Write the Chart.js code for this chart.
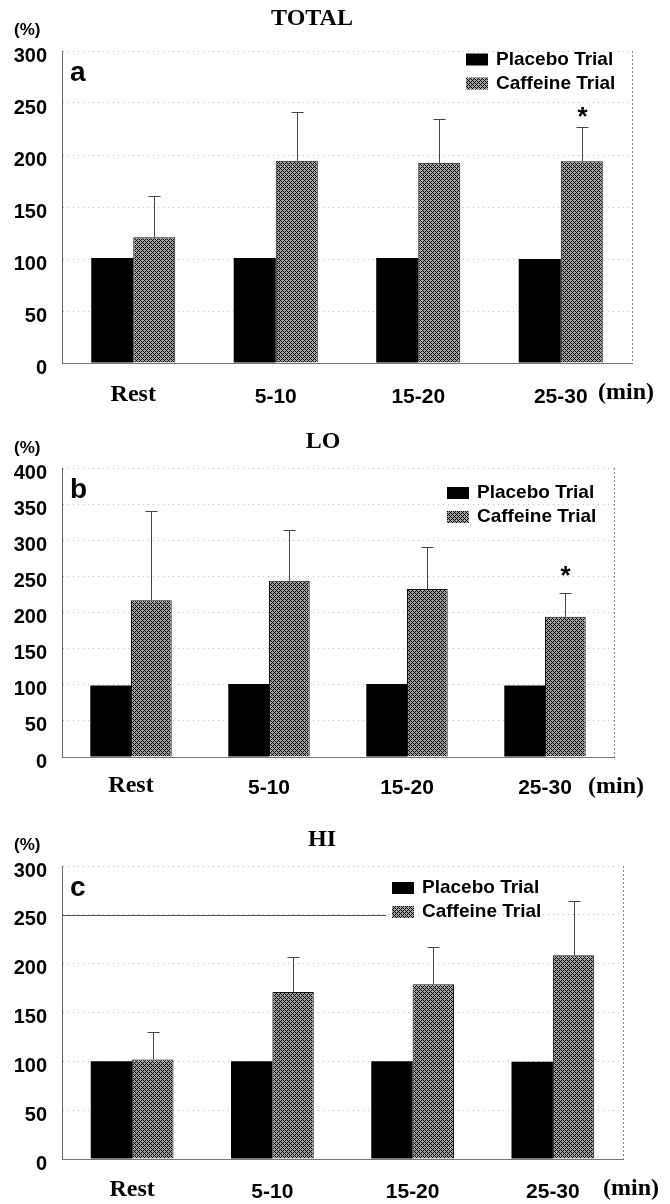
<!DOCTYPE html>
<html>
<head>
<meta charset="utf-8">
<script src="https://cdn.jsdelivr.net/npm/chart.js@4"></script>
<style>
  body { margin: 0; background: #fff; }
  canvas { display: block; }
</style>
</head>
<body>
<canvas id="chartA" width="670" height="410"></canvas>
<canvas id="chartB" width="670" height="395"></canvas>
<canvas id="chartC" width="670" height="399"></canvas>
<script>
// categories on x axis
const categories = ['Rest', '5-10', '15-20', '25-30'];
const seriesNames = ['Placebo Trial', 'Caffeine Trial'];

// panel a - TOTAL
const totalPlacebo = [101, 101, 101, 100];
const totalCaffeine = [121, 194.5, 192.5, 194];
const totalCaffeineSD = [40, 47, 42.5, 32.5];
const totalMarks = ['', '', '', '*'];
const totalTicks = [0, 50, 100, 150, 200, 250, 300];

// panel b - LO
const loPlacebo = [99, 101, 101, 99];
const loCaffeine = [217, 244, 232.5, 194];
const loCaffeineSD = [124, 70, 57.5, 33.5];
const loMarks = ['', '', '', '*'];
const loTicks = [0, 50, 100, 150, 200, 250, 300, 350, 400];

// panel c - HI
const hiPlacebo = [100, 100, 100, 99.5];
const hiCaffeine = [102, 171, 179, 208.5];
const hiCaffeineSD = [28, 36, 38, 56];
const hiMarks = ['', '', '', ''];
const hiTicks = [0, 50, 100, 150, 200, 250, 300];

const SANS = '"Liberation Sans", Arial, sans-serif';
const SERIF = '"Liberation Serif", "Times New Roman", serif';

// cross hatch fill for the caffeine bars
function makeHatch() {
  const c = document.createElement('canvas');
  c.width = 4; c.height = 4;
  const g = c.getContext('2d');
  g.fillStyle = '#a4a4a4';
  g.fillRect(0, 0, 4, 4);
  g.fillStyle = '#000';
  for (let x = 0; x < 4; x++) {
    for (let y = 0; y < 4; y++) {
      if ((x + y) % 4 == 0 || (x - y + 4) % 4 == 0) g.fillRect(x, y, 1, 1);
    }
  }
  return g.createPattern(c, 'repeat');
}
const hatch = makeHatch();

// error bars, asterisks, legend, labels and frame
const decor = {
  id: 'decor',
  afterDatasetsDraw(chart, args, o) {
    const ctx = chart.ctx;
    const yScale = chart.scales.y;
    const meta = chart.getDatasetMeta(1);
    const means = chart.data.datasets[1].data;
    ctx.save();
    ctx.strokeStyle = '#444';
    ctx.lineWidth = 1;
    meta.data.forEach((bar, i) => {
      const top = yScale.getPixelForValue(means[i] + o.sd[i]);
      const x = Math.round(bar.x) + 0.5;
      ctx.beginPath();
      ctx.moveTo(x, bar.y);
      ctx.lineTo(x, Math.round(top) + 0.5);
      ctx.moveTo(x - 6, Math.round(top) + 0.5);
      ctx.lineTo(x + 6, Math.round(top) + 0.5);
      ctx.stroke();
      if (o.marks[i]) {
        ctx.fillStyle = '#000';
        ctx.font = 'bold 26px ' + SANS;
        ctx.textAlign = 'center';
        ctx.textBaseline = 'middle';
        ctx.fillText(o.marks[i], x, top - o.markGap + 4);
      }
    });
    ctx.restore();
  },
  afterDraw(chart, args, o) {
    const ctx = chart.ctx;
    const area = chart.chartArea;
    ctx.save();
    // dotted right frame
    ctx.strokeStyle = '#888';
    ctx.setLineDash([2, 2]);
    ctx.beginPath();
    ctx.moveTo(area.right + 0.5, area.top);
    ctx.lineTo(area.right + 0.5, area.bottom);
    ctx.stroke();
    ctx.setLineDash([]);

    // legend
    const lx = area.right - o.legendRight;
    const ly = area.top + o.legendTop;
    if (o.refLine) {
      const yy = Math.round(chart.scales.y.getPixelForValue(o.refLine)) + 0.5;
      ctx.strokeStyle = '#555';
      ctx.beginPath();
      ctx.moveTo(area.left, yy);
      ctx.lineTo(lx - 6, yy);
      ctx.stroke();
    }
    chart.data.datasets.forEach((ds, i) => {
      const sy = ly + i * 24;
      ctx.fillStyle = ds.backgroundColor;
      ctx.fillRect(lx, sy, 22, 12);
      ctx.fillStyle = '#000';
      ctx.font = 'bold 19px ' + SANS;
      ctx.textAlign = 'left';
      ctx.textBaseline = 'middle';
      ctx.fillText(ds.label, lx + 30, sy + 6);
    });

    // panel letter
    ctx.font = 'bold 28px ' + SANS;
    ctx.textBaseline = 'alphabetic';
    ctx.fillText(o.letter, area.left + 8, area.top + 30);

    // title and unit labels
    ctx.font = 'bold 24px ' + SERIF;
    ctx.textAlign = 'center';
    ctx.textBaseline = 'middle';
    ctx.fillText(o.title, o.titleX, o.titleY);
    ctx.font = 'bold 17px ' + SANS;
    ctx.textAlign = 'left';
    ctx.fillText('(%)', 14, o.unitY);
    ctx.font = 'bold 24px ' + SERIF;
    ctx.fillText('(min)', o.minX, area.bottom + 30);
    ctx.restore();
  }
};

function makePanel(id, p) {
  return new Chart(document.getElementById(id), {
    type: 'bar',
    data: {
      labels: categories,
      datasets: [
        {
          label: seriesNames[0],
          data: p.placebo,
          backgroundColor: '#000',
          borderWidth: 0,
          categoryPercentage: 0.59,
          barPercentage: 1.0
        },
        {
          label: seriesNames[1],
          data: p.caffeine,
          backgroundColor: hatch,
          borderColor: '#111',
          borderWidth: 1,
          borderSkipped: 'bottom',
          categoryPercentage: 0.59,
          barPercentage: 1.0
        }
      ]
    },
    options: {
      responsive: false,
      animation: false,
      events: [],
      layout: { padding: { top: p.padTop, right: p.padRight, left: 0, bottom: 0 } },
      scales: {
        x: {
          grid: { display: false },
          border: { color: '#777', width: 1 },
          afterFit(scale) { scale.height = p.xHeight; },
          ticks: {
            color: '#000',
            padding: p.xPad,
            maxRotation: 0,
            font: (c) => c.index === 0
              ? { family: SERIF, size: 24, weight: 'bold', lineHeight: 0.78 }
              : { family: SANS, size: 21, weight: 'bold' }
          }
        },
        y: {
          min: 0,
          max: p.ticks[p.ticks.length - 1],
          afterBuildTicks(scale) { scale.ticks = p.ticks.map(v => ({ value: v })); },
          afterFit(scale) { scale.width = 62; },
          grid: { color: '#bdbdbd', lineWidth: 1, drawTicks: false },
          border: { color: '#666', width: 1, dash: [1, 4] },
          ticks: {
            color: '#000',
            padding: 15,
            labelOffset: 5,
            font: { family: SANS, size: 20, weight: 'bold' }
          }
        }
      },
      plugins: {
        legend: { display: false },
        title: { display: false },
        tooltip: { enabled: false },
        decor: {
          sd: p.sd,
          marks: p.marks,
          markGap: p.markGap,
          letter: p.letter,
          title: p.title,
          titleX: p.titleX,
          titleY: p.titleY,
          unitY: p.unitY,
          minX: p.minX,
          legendRight: p.legendRight,
          legendTop: p.legendTop,
          refLine: p.refLine
        }
      }
    },
    plugins: [decor]
  });
}

makePanel('chartA', {
  placebo: totalPlacebo, caffeine: totalCaffeine, sd: totalCaffeineSD, marks: totalMarks,
  ticks: totalTicks, letter: 'a', title: 'TOTAL', titleX: 312, titleY: 19, unitY: 30,
  padTop: 51, padRight: 38, xHeight: 47, xPad: 14, minX: 598, markGap: 14,
  legendRight: 166, legendTop: 2.5, refLine: null
});
makePanel('chartB', {
  placebo: loPlacebo, caffeine: loCaffeine, sd: loCaffeineSD, marks: loMarks,
  ticks: loTicks, letter: 'b', title: 'LO', titleX: 323, titleY: 32, unitY: 38,
  padTop: 58, padRight: 56, xHeight: 48, xPad: 11, minX: 588, markGap: 20,
  legendRight: 167, legendTop: 19, refLine: null
});
makePanel('chartC', {
  placebo: hiPlacebo, caffeine: hiCaffeine, sd: hiCaffeineSD, marks: hiMarks,
  ticks: hiTicks, letter: 'c', title: 'HI', titleX: 322, titleY: 35, unitY: 40,
  padTop: 61, padRight: 47, xHeight: 45, xPad: 13, minX: 603, markGap: 15,
  legendRight: 231, legendTop: 16, refLine: 250
});
</script>
</body>
</html>
